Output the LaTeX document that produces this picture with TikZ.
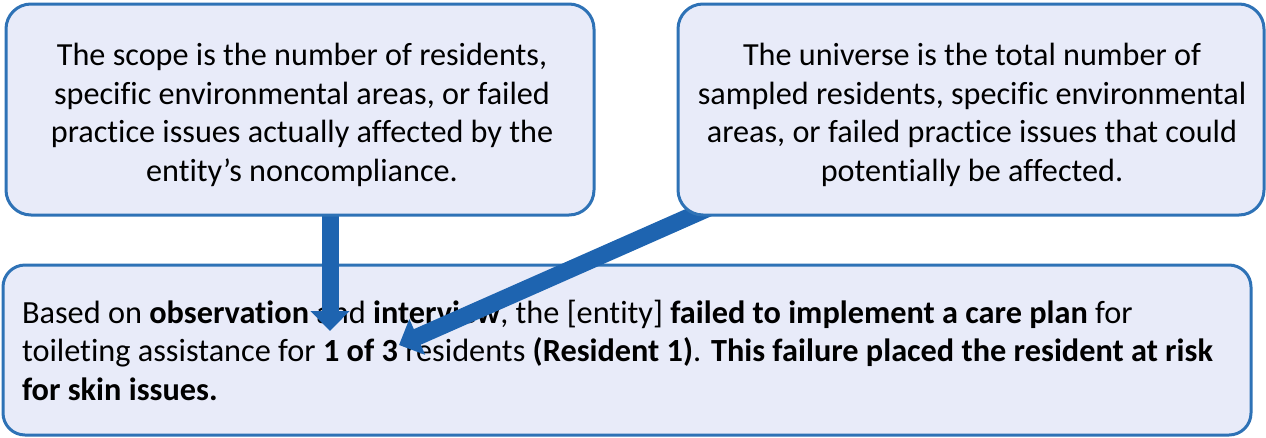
\documentclass[tikz,border=0pt]{standalone}
\usepackage{fontspec}
\setmainfont[Ligatures=NoCommon]{Carlito}
\usetikzlibrary{arrows.meta}
\definecolor{boxfill}{RGB}{232,235,249}
\definecolor{boxline}{RGB}{46,114,182}
\definecolor{arrowblue}{RGB}{30,100,176}
\tikzset{
  infobox/.style={draw=boxline, line width=3pt, fill=boxfill, rounded corners=25pt},
  boxtext/.style={font=\fontsize{32.2}{38.5}\selectfont, text=black, align=center},
  pointer/.style={draw=arrowblue, line width=17pt,
    -{Triangle[width=38pt,length=20pt]}}
}
\begin{document}
\begin{tikzpicture}[x=1pt,y=-1pt]
\useasboundingbox (0,0) rectangle (1266,437);
% statement box at the bottom
\node[infobox, rounded corners=22pt, minimum width=1248pt, minimum height=170pt,
  text width=1210pt, align=flush left, inner xsep=19pt,
  font=\fontsize{32.3}{38.5}\selectfont] (finding) at (627,350)
  {Based on \textbf{observation} and \textbf{interview}, the [entity] \textbf{failed to implement a care plan} for\\
   toileting assistance for \textbf{1 of 3} residents \textbf{(Resident 1)}. \textbf{This failure placed the resident at risk}\\
   \textbf{for skin issues.}};
% arrow ends
\coordinate (s1) at (330,205);
\coordinate (t1) at (330,331);
\coordinate (s2) at (718,204);
\coordinate (t2) at (399,345);
\draw[pointer] (s1) -- (t1);
\draw[pointer] (s2) -- (t2);
% definition boxes at the top
\node[infobox, minimum width=588pt, minimum height=211pt] (scope) at (300,109.5) {};
\node[boxtext] (scopetext) at (302,115)
  {The scope is the number of residents,\\
   specific environmental areas, or failed\\
   practice issues actually affected by the\\
   entity’s noncompliance.};
\node[infobox, minimum width=586pt, minimum height=211pt] (universe) at (971,109.5) {};
\node[boxtext] (universetext) at (972,115)
  {The universe is the total number of\\
   sampled residents, specific environmental\\
   areas, or failed practice issues that could\\
   potentially be affected.};
\end{tikzpicture}
\end{document}
